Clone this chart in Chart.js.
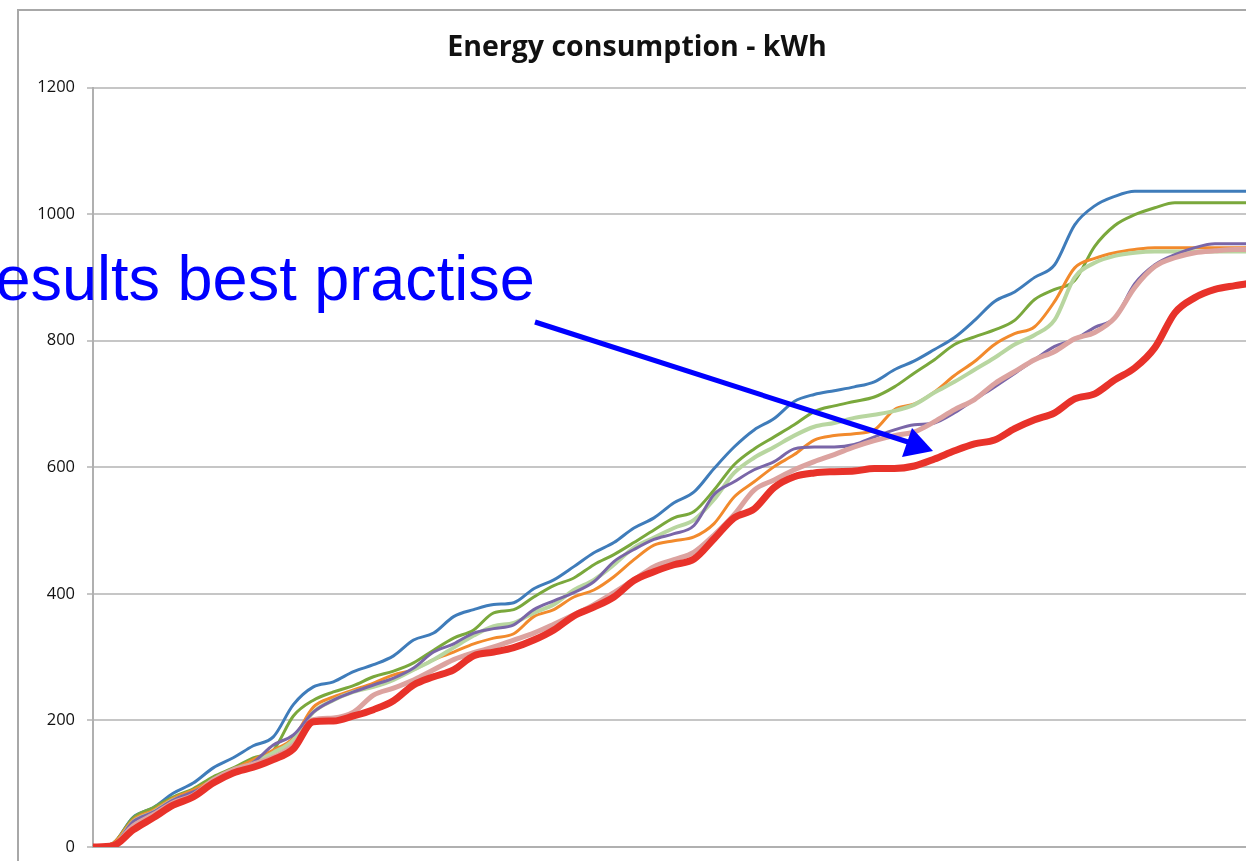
<!DOCTYPE html>
<html>
<head>
<meta charset="utf-8">
<script src="https://cdn.jsdelivr.net/npm/chart.js@4.4.1/dist/chart.umd.min.js"></script>
<style>
  html, body { margin: 0; padding: 0; background: #fff; width: 1246px; height: 861px; overflow: hidden; position: relative; }
  #frame { position: absolute; left: 17px; top: 9px; width: 1300px; height: 900px; border-left: 2px solid #a8a8a8; border-top: 2px solid #a8a8a8; }
  #c { position: absolute; left: 19px; top: 11px; }
  #note { position: absolute; left: -50px; top: 247px; font-family: "Liberation Sans", Arial, sans-serif; font-size: 63px; color: #0000ff; white-space: nowrap; line-height: 1; }
  #arrow { position: absolute; left: 0; top: 0; }
</style>
</head>
<body>
<div id="frame"></div>
<canvas id="c" width="1268" height="858"></canvas>
<div id="note">Results best practise</div>
<svg id="arrow" width="1246" height="861">
  <line x1="535" y1="322" x2="908" y2="442" stroke="#0000ff" stroke-width="5"/>
  <polygon points="933,451 902,457 912,428" fill="#0000ff"/>
</svg>
<script>
const days = Array.from({length: 59}, (_, i) => String(i + 1));

const blueSeries = [0,6,47,62,85,101,125,141,160,174,225,253,261,277,288,302,327,338,364,375,383,386,408,422,443,465,481,504,520,544,561,598,632,659,677,704,715,721,727,735,754,768,786,805,832,862,877,900,920,983,1013,1028,1036,1036,1036,1036,1036,1036,1036];
const greenSeries = [0,6,46,62,79,92,111,125,141,153,207,232,245,255,269,278,291,311,330,343,370,375,395,413,425,446,462,481,501,520,530,564,604,629,648,667,688,697,704,711,727,749,770,794,806,817,832,865,881,895,949,982,999,1010,1018,1018,1018,1018,1018];
const orangeSeries = [0,6,43,58,77,90,106,122,138,153,172,221,237,248,259,272,280,296,308,321,330,337,364,375,395,406,427,454,477,484,490,511,553,577,601,620,643,650,653,659,691,700,719,745,767,794,811,822,862,915,930,939,944,947,947,947,947,947,947];
const lightGreenSeries = [0,3,40,55,74,85,101,119,133,149,169,213,232,245,253,264,280,296,315,334,349,354,370,383,406,422,446,473,489,504,517,549,591,615,632,650,664,670,678,683,689,699,718,735,754,773,794,809,833,900,923,934,939,941,941,941,941,941,941];
const purpleSeries = [0,3,40,55,74,87,103,119,134,161,177,213,232,245,256,267,283,308,321,338,345,351,375,389,402,419,451,470,486,495,508,557,577,596,609,629,632,632,636,648,659,667,670,686,707,727,748,770,791,802,821,836,890,920,936,947,953,953,953];
const pinkSeries = [0,3,33,51,70,82,106,122,131,142,161,201,204,213,240,251,264,280,296,307,316,327,338,352,367,383,402,422,443,454,466,493,525,564,580,596,609,620,632,642,650,656,672,691,707,732,751,770,783,803,813,836,884,917,931,939,942,944,944];
const redSeries = [0,2,27,46,66,79,101,117,126,138,155,198,199,207,217,231,256,269,280,302,308,315,327,343,365,379,395,421,435,446,455,487,520,534,568,585,591,593,594,598,598,602,613,626,637,643,661,675,686,708,716,738,757,789,844,868,881,887,892];

const yTicks = [0, 200, 400, 600, 800, 1000, 1200];

const mk = (label, data, color, width) => ({
  label, data, borderColor: color, backgroundColor: color, borderWidth: width,
  pointRadius: 0, fill: false, cubicInterpolationMode: 'monotone'
});

new Chart(document.getElementById('c'), {
  type: 'line',
  data: {
    labels: days,
    datasets: [
      mk('Best practise', redSeries, '#e8322a', 7),
      mk('Series 6', pinkSeries, '#dca3a0', 5),
      mk('Series 5', purpleSeries, '#7a66a8', 3),
      mk('Series 4', lightGreenSeries, '#b8d6a0', 4),
      mk('Series 3', orangeSeries, '#f28a2c', 3),
      mk('Series 2', greenSeries, '#7aa83c', 3),
      mk('Series 1', blueSeries, '#3f7cba', 3)
    ]
  },
  options: {
    responsive: false,
    animation: false,
    layout: { padding: { left: 0, right: 32, top: 0, bottom: 22 } },
    plugins: {
      legend: { display: false },
      tooltip: { enabled: false },
      title: {
        display: true,
        text: 'Energy consumption - kWh',
        color: '#111',
        font: { family: 'Open Sans', size: 28.5, weight: 'bold', lineHeight: 1.0 },
        padding: { top: 23, bottom: 25 }
      }
    },
    scales: {
      x: {
        offset: false,
        grid: { display: false },
        border: { display: true, color: '#b0b0b0', width: 2 },
        ticks: { display: false },
        afterFit: s => { s.height = 0; }
      },
      y: {
        min: 0, max: 1200,
        afterBuildTicks: s => { s.ticks = yTicks.map(v => ({ value: v })); },
        afterFit: s => { s.width = 74; },
        grid: { color: '#c6c6c6', lineWidth: 2, tickLength: 6 },
        border: { display: true, color: '#b0b0b0', width: 2 },
        ticks: { color: '#111', padding: 12, font: { family: 'Open Sans', size: 16.5 }, callback: v => String(v) }
      }
    }
  }
});
</script>
</body>
</html>
